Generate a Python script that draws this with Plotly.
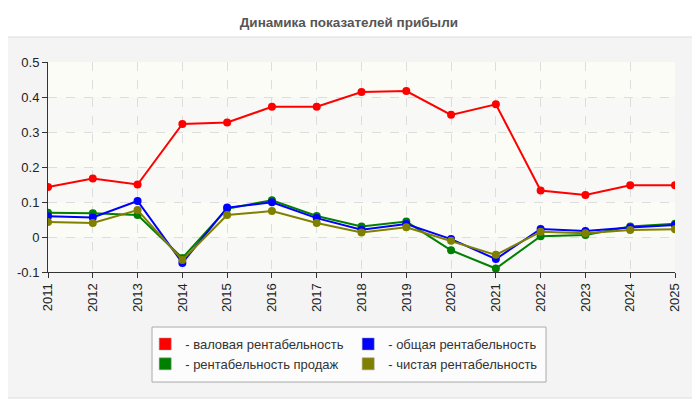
import plotly.graph_objects as go

years = list(range(2011, 2026))

# values
gross = [0.143, 0.167, 0.150, 0.323, 0.327, 0.372, 0.372, 0.414, 0.417,
         0.349, 0.379, 0.133, 0.120, 0.148, 0.148]
total = [0.059, 0.056, 0.103, -0.074, 0.084, 0.099, 0.054, 0.021, 0.037,
         -0.006, -0.063, 0.023, 0.017, 0.027, 0.034]
sales = [0.069, 0.068, 0.063, -0.060, 0.081, 0.105, 0.060, 0.030, 0.044,
         -0.038, -0.090, 0.002, 0.006, 0.030, 0.038]
net = [0.043, 0.040, 0.077, -0.066, 0.063, 0.074, 0.040, 0.013, 0.028,
       -0.011, -0.051, 0.015, 0.011, 0.020, 0.022]

y_ticks = [-0.1, 0, 0.1, 0.2, 0.3, 0.4, 0.5]
y_labels = ["-0.1", "0", "0.1", "0.2", "0.3", "0.4", "0.5"]

# name, values, colour, legend column
series = [
    ("- валовая рентабельность", gross, "#ff0000", "legend"),
    ("- общая рентабельность", total, "#0000ff", "legend2"),
    ("- рентабельность продаж", sales, "#008000", "legend"),
    ("- чистая рентабельность", net, "#808000", "legend2"),
]
draw_order = [0, 2, 1, 3]

FONT = "Liberation Sans, Arial, sans-serif"

fig = go.Figure()

for idx in draw_order:
    name, vals, color, _ = series[idx]
    fig.add_trace(go.Scatter(
        x=years, y=vals, mode="lines+markers", name=name,
        line=dict(color=color, width=2),
        marker=dict(color=color, size=8),
        showlegend=False,
    ))

# legend swatches (no data)
for name, vals, color, leg in series:
    fig.add_trace(go.Bar(
        x=[None], y=[None], name=name, legend=leg,
        marker=dict(color=color, line=dict(color="#999", width=0.5)),
    ))

# outer panel, legend box, alternating background bands of the plot area
shapes = [
    dict(type="rect", xref="paper", yref="paper", x0=-0.0766, x1=1.0367,
         y0=-0.6, y1=1.119, fillcolor="#f4f4f4",
         line=dict(color="#dddddd", width=1), layer="below"),
    dict(type="rect", xref="paper", yref="paper", x0=0.1659, x1=0.7943,
         y0=-0.524, y1=-0.262, fillcolor="#fcfcfc",
         line=dict(color="#aaaaaa", width=1), layer="below"),
]
for i in range(len(y_ticks) - 1):
    shapes.append(dict(
        type="rect", xref="paper", yref="y", x0=0, x1=1,
        y0=y_ticks[i], y1=y_ticks[i + 1],
        fillcolor="#f8f8f7" if i % 2 == 0 else "#fcfcf6",
        line=dict(width=0), layer="below",
    ))

legend_style = dict(
    orientation="v", xref="container", yref="container",
    xanchor="left", yanchor="top", y=0.1975,
    bgcolor="rgba(0,0,0,0)", borderwidth=0, itemwidth=30,
    font=dict(size=13, color="#333", family=FONT),
    itemclick=False, itemdoubleclick=False,
)

# page body has an 8px offset, margins compensate for it
fig.update_layout(
    width=700, height=400,
    margin=dict(l=40, r=33, t=54, b=136, autoexpand=False),
    paper_bgcolor="white",
    plot_bgcolor="rgba(0,0,0,0)",
    font=dict(family=FONT, size=13, color="#222"),
    title=dict(text="<b>Динамика показателей прибыли</b>", x=0.487, xanchor="center",
               y=0.965, yanchor="middle",
               font=dict(size=13.5, color="#555", family=FONT)),
    shapes=shapes,
    showlegend=True,
    legend=dict(x=0.196, **legend_style),
    legend2=dict(x=0.486, **legend_style),
)

fig.update_xaxes(
    range=[2011, 2025], tickmode="array", tickvals=years,
    ticktext=[str(y) for y in years], tickangle=-90,
    showline=True, linecolor="#333", linewidth=1,
    ticks="outside", ticklen=5, tickcolor="#333",
    showgrid=True, gridcolor="#dddddd", griddash="dash", zeroline=False,
    tickfont=dict(size=13, color="#222"), automargin=False,
)
fig.update_yaxes(
    range=[-0.1, 0.5], tickmode="array", tickvals=y_ticks, ticktext=y_labels,
    showline=True, linecolor="#333", linewidth=1,
    ticks="outside", ticklen=5, tickcolor="#333",
    showgrid=True, gridcolor="#dddddd", griddash="dash", zeroline=False,
    tickfont=dict(size=13, color="#222"), automargin=False,
)

fig.write_html("out.html")
